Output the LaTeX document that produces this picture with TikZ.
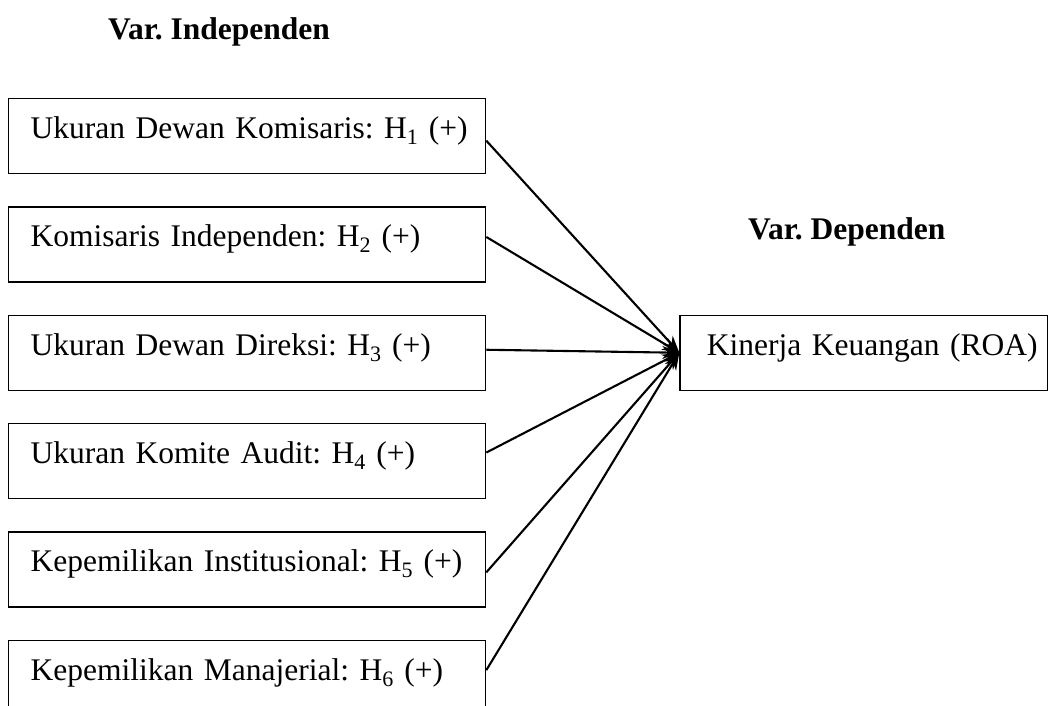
\documentclass[tikz,border=0pt]{standalone}
\usepackage{fontspec}
\setmainfont{Liberation Serif}
\usetikzlibrary{arrows.meta, positioning}
\frenchspacing

\begin{document}
\begin{tikzpicture}[x=1pt, y=-1pt, node distance=32pt]
    \useasboundingbox (0,0) rectangle (1048,705);
    \clip (0,0) rectangle (1048,705);
    \tikzstyle{kotak}=[draw, line width=1.3pt, inner xsep=22pt, inner ysep=0pt, text width=433pt, align=left,
                       text height=40pt, text depth=35pt, font=\fontsize{31.5}{37}\selectfont]
    \tikzstyle{judul}=[anchor=base west, inner sep=0pt, font=\fontsize{31.5}{38}\selectfont\bfseries]
    \tikzstyle{panah}=[line width=2.1pt, -{Stealth[length=17pt, width=13pt]}]
    \node(ind)[judul] at (108,39) {Var. Independen};
    \node(b1)[kotak, anchor=north west] at (8,98) {\mbox{Ukuran Dewan Komisaris: H\textsubscript{1} (+)}};
    \node(b2)[kotak, below=of b1] {\mbox{Komisaris Independen: H\textsubscript{2} (+)}};
    \node(b3)[kotak, below=of b2] {\mbox{Ukuran Dewan Direksi: H\textsubscript{3} (+)}};
    \node(b4)[kotak, below=of b3] {\mbox{Ukuran Komite Audit: H\textsubscript{4} (+)}};
    \node(b5)[kotak, below=of b4] {\mbox{Kepemilikan Institusional: H\textsubscript{5} (+)}};
    \node(b6)[kotak, below=of b5] {\mbox{Kepemilikan Manajerial: H\textsubscript{6} (+)}};
    % variabel dependen
    \node(roa)[kotak, right=193pt of b3, inner xsep=27pt, text width=314pt] {\mbox{Kinerja Keuangan (ROA)}};
    \node(dep)[judul] at (748,239) {Var. Dependen};
    \draw[panah] ([yshift=-4.5pt]b1.east) -- (roa.west);
    \draw[panah] ([yshift=7.5pt]b2.east) -- (roa.west);
    \draw[panah] ([yshift=3pt]b3.east) -- (roa.west);
    \draw[panah] ([yshift=8.5pt]b4.east) -- (roa.west);
    \draw[panah] ([yshift=-3pt]b5.east) -- (roa.west);
    \draw[panah] ([yshift=7.5pt]b6.east) -- (roa.west);
\end{tikzpicture}
\end{document}
